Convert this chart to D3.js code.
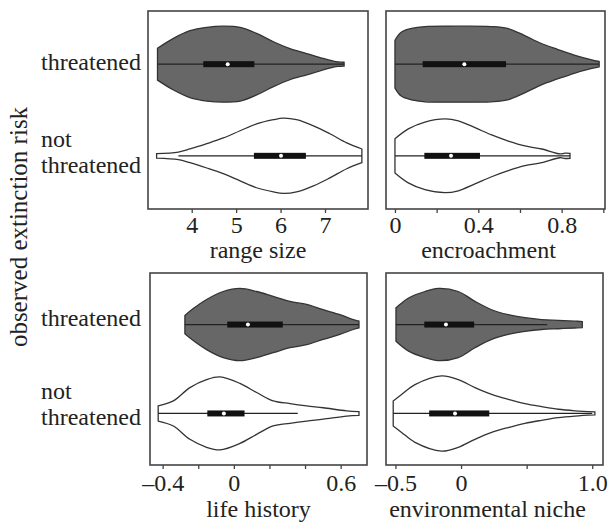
<!DOCTYPE html>
<html>
<head>
<meta charset="utf-8">
<script src="https://cdn.jsdelivr.net/npm/d3@7"></script>
<style>
  body { margin: 0; background: #fff; }
</style>
</head>
<body>
<div id="chart"></div>
<script>
// groups, top to bottom in each panel
const groups = ['threatened', 'not threatened'];

// range size
const rangeThrX = [3.23, 3.59, 3.96, 4.34, 4.71, 5.09, 5.46, 5.84, 6.21, 6.59, 6.96, 7.19, 7.30, 7.43];
const rangeThrD = [0.42, 0.68, 0.88, 0.97, 1.0, 0.97, 0.81, 0.59, 0.41, 0.28, 0.15, 0.08, 0.06, 0.05];
const rangeNotX = [3.21, 3.70, 3.96, 4.34, 4.71, 5.09, 5.46, 5.84, 6.06, 6.36, 6.74, 7.11, 7.49, 7.83];
const rangeNotD = [0.06, 0.10, 0.18, 0.32, 0.47, 0.66, 0.84, 0.95, 0.99, 0.95, 0.79, 0.58, 0.34, 0.18];
const rangeThrBox = [3.23, 4.26, 4.81, 5.41, 7.43];
const rangeNotBox = [3.70, 5.40, 6.01, 6.57, 7.83];
const rangeTicks = [4, 5, 6, 7];
const rangeLabels = [4, 5, 6, 7];

// encroachment
const encThrX = [0.0, 0.03, 0.08, 0.144, 0.30, 0.46, 0.54, 0.62, 0.70, 0.78, 0.86, 0.94, 0.98];
const encThrD = [0.63, 0.84, 0.94, 0.99, 1.0, 0.99, 0.94, 0.76, 0.55, 0.39, 0.24, 0.12, 0.07];
const encNotX = [0.0, 0.064, 0.144, 0.24, 0.304, 0.384, 0.464, 0.544, 0.624, 0.704, 0.792, 0.816, 0.84];
const encNotD = [0.45, 0.71, 0.89, 0.97, 0.92, 0.74, 0.55, 0.39, 0.26, 0.18, 0.05, 0.07, 0.065];
const encThrBox = [0.0, 0.133, 0.333, 0.533, 0.98];
const encNotBox = [0.0, 0.141, 0.269, 0.408, 0.84];
const encTicks = [0, 0.2, 0.4, 0.6, 0.8, 1.0];
const encLabels = [0, 0.4, 0.8];

// life history
const lifeThrX = [-0.275, -0.228, -0.153, -0.06, 0.034, 0.128, 0.221, 0.315, 0.409, 0.502, 0.596, 0.671, 0.703];
const lifeThrD = [0.24, 0.42, 0.66, 0.87, 0.95, 0.87, 0.74, 0.61, 0.53, 0.39, 0.26, 0.13, 0.09];
const lifeNotX = [-0.425, -0.34, -0.247, -0.153, -0.078, 0.034, 0.128, 0.221, 0.315, 0.409, 0.502, 0.634, 0.703];
const lifeNotD = [0.20, 0.33, 0.68, 0.89, 0.96, 0.79, 0.55, 0.33, 0.26, 0.20, 0.15, 0.07, 0.05];
const lifeThrBox = [-0.275, -0.037, 0.079, 0.275, 0.703];
const lifeNotBox = [-0.425, -0.149, -0.056, 0.06, 0.359];
const lifeTicks = [-0.4, -0.2, 0, 0.2, 0.4, 0.6];
const lifeLabels = [-0.4, 0, 0.6];

// environmental niche
const nicheThrX = [-0.496, -0.40, -0.275, -0.174, -0.021, 0.106, 0.233, 0.36, 0.487, 0.614, 0.741, 0.868, 0.924];
const nicheThrD = [0.44, 0.70, 0.87, 0.95, 0.87, 0.61, 0.39, 0.26, 0.18, 0.13, 0.11, 0.09, 0.08];
const nicheNotX = [-0.517, -0.453, -0.351, -0.148, -0.021, 0.106, 0.233, 0.36, 0.487, 0.614, 0.741, 0.868, 1.02];
const nicheNotD = [0.33, 0.50, 0.76, 0.99, 0.89, 0.68, 0.50, 0.37, 0.26, 0.18, 0.11, 0.07, 0.04];
const nicheThrBox = [-0.496, -0.28, -0.115, 0.10, 0.657];
const nicheNotBox = [-0.517, -0.243, -0.046, 0.215, 1.0];
const nicheTicks = [-0.5, 0, 0.5, 1.0];
const nicheLabels = [-0.5, 0, 1.0];

const W = 609, H = 524;
const halfMax = 38;
const FONT = '"Liberation Serif", "Times New Roman", Times, "DejaVu Serif", serif';
const FS = 24;

const panels = [
	{ name: 'range size', x0: 148, x1: 368, y0: 11, y1: 209, dom: [3.016, 7.968], ticks: rangeTicks, labels: rangeLabels,
		thr: [rangeThrX, rangeThrD, rangeThrBox], not: [rangeNotX, rangeNotD, rangeNotBox], lblDx: 0, lblDy: 49, tickPad: 3 },
	{ name: 'encroachment', x0: 386, x1: 605, y0: 11, y1: 209, dom: [-0.043, 1.008], ticks: encTicks, labels: encLabels,
		thr: [encThrX, encThrD, encThrBox], not: [encNotX, encNotD, encNotBox], lblDx: -7, lblDy: 49, tickPad: 3 },
	{ name: 'life history', x0: 150, x1: 367, y0: 273, y1: 465, dom: [-0.471, 0.748], ticks: lifeTicks, labels: lifeLabels,
		thr: [lifeThrX, lifeThrD, lifeThrBox], not: [lifeNotX, lifeNotD, lifeNotBox], lblDx: 0, lblDy: 52, tickPad: 5 },
	{ name: 'environmental niche', x0: 386, x1: 603, y0: 273, y1: 465, dom: [-0.572, 1.082], ticks: nicheTicks, labels: nicheLabels,
		thr: [nicheThrX, nicheThrD, nicheThrBox], not: [nicheNotX, nicheNotD, nicheNotBox], lblDx: -7, lblDy: 52, tickPad: 5 }
];

const fmt = (v) => {
	let s = d3.format('.1f')(Math.abs(v));
	if (Number.isInteger(v) && Math.abs(v) !== 1) s = String(Math.abs(v));
	return (v < 0 ? '\u2013' : '') + s;
};

const svg = d3.select('#chart').append('svg').attr('width', W).attr('height', H)
	.attr('font-family', FONT);

const wScale = d3.scaleLinear().domain([0, 1]).range([0, halfMax]);

function addText(sel, x, y, str) {
	return sel.append('text').attr('x', x).attr('y', y)
		.attr('font-family', FONT).attr('font-size', FS).attr('fill', '#222').text(str);
}

panels.forEach((p) => {
	const x = d3.scaleLinear().domain(p.dom).range([p.x0, p.x1]);
	const y = d3.scalePoint().domain(groups).range([p.y0, p.y1]).padding(0.58);
	const g = svg.append('g');

	[['threatened', p.thr, '#676767'], ['not threatened', p.not, '#fff']].forEach(([grp, dat, fill]) => {
		const cy = y(grp);
		const pts = dat[0].map((v, i) => [v, dat[1][i]]);
		const area = d3.area()
			.x((d) => x(d[0]))
			.y0((d) => cy - wScale(d[1]))
			.y1((d) => cy + wScale(d[1]))
			.curve(d3.curveCatmullRom.alpha(0.5));
		g.append('path').attr('d', area(pts))
			.attr('fill', fill).attr('stroke', '#333').attr('stroke-width', 1.3);

		const b = dat[2];
		g.append('line').attr('x1', x(b[0])).attr('x2', x(b[4])).attr('y1', cy).attr('y2', cy)
			.attr('stroke', '#222').attr('stroke-width', 1.2);
		g.append('rect').attr('x', x(b[1])).attr('width', x(b[3]) - x(b[1]))
			.attr('y', cy - 3).attr('height', 6).attr('fill', '#111');
		g.append('circle').attr('cx', x(b[2])).attr('cy', cy).attr('r', 2).attr('fill', '#fff');
	});

	// frame
	g.append('rect').attr('x', p.x0).attr('y', p.y0).attr('width', p.x1 - p.x0).attr('height', p.y1 - p.y0)
		.attr('fill', 'none').attr('stroke', '#444').attr('stroke-width', 1.6);

	const axis = d3.axisBottom(x).tickValues(p.ticks).tickSize(4).tickPadding(p.tickPad)
		.tickFormat((d) => p.labels.some((l) => Math.abs(l - d) < 1e-9) ? fmt(d) : '');
	const ax = g.append('g').attr('transform', 'translate(0,' + p.y1 + ')').call(axis)
		.attr('font-family', FONT).attr('font-size', FS);
	ax.select('.domain').remove();
	ax.selectAll('line').attr('stroke', '#444').attr('stroke-width', 1.3);
	ax.selectAll('text').attr('fill', '#222');

	addText(g, (p.x0 + p.x1) / 2 + p.lblDx, p.y1 + p.lblDy, p.name).attr('text-anchor', 'middle');
});

// row labels on the left
const rowLabels = [
	{ y0: 11, y1: 209, thrDy: 6, notDy: [-9, 17] },
	{ y0: 273, y1: 465, thrDy: 1, notDy: [-14, 12] }
];
rowLabels.forEach((r) => {
	const y = d3.scalePoint().domain(groups).range([r.y0, r.y1]).padding(0.58);
	addText(svg, 41, y('threatened') + r.thrDy, 'threatened');
	addText(svg, 41, y('not threatened') + r.notDy[0], 'not');
	addText(svg, 41, y('not threatened') + r.notDy[1], 'threatened');
});

addText(svg, 0, 0, 'observed extinction risk')
	.attr('transform', 'translate(27,227) rotate(-90)')
	.attr('text-anchor', 'middle')
	.attr('font-size', 25);
</script>
</body>
</html>
